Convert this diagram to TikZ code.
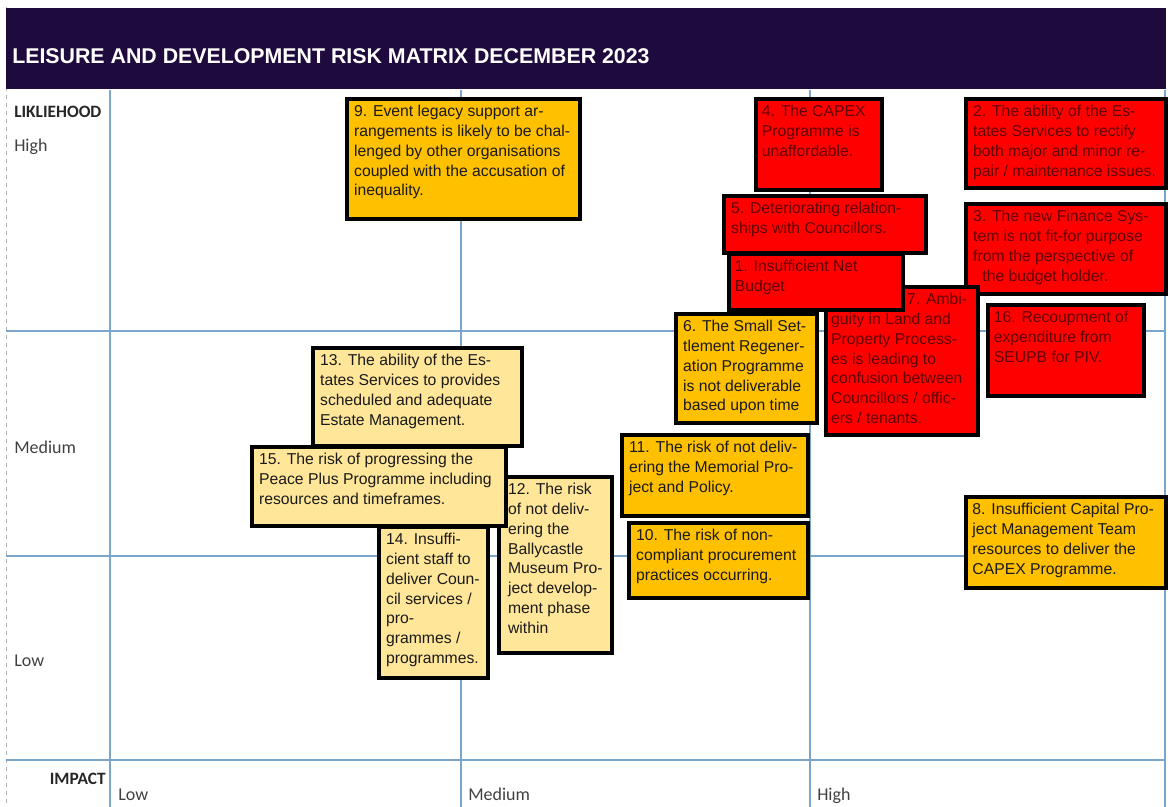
\documentclass[tikz,border=0pt]{standalone}
\usepackage{fontspec}
\setmainfont{Liberation Sans}
\newfontfamily\lblfont{Carlito}
\usetikzlibrary{fit,shadows}
\definecolor{hdr}{HTML}{1E0A3C}
\definecolor{gridc}{HTML}{7AA6CC}
\definecolor{orng}{HTML}{FFC000}
\definecolor{ltyel}{HTML}{FFE699}
\definecolor{rred}{HTML}{FF0000}
\definecolor{rtext}{HTML}{600000}
\definecolor{otext}{HTML}{1A1A1A}
\definecolor{lbl}{HTML}{404040}
\begin{document}
\begin{tikzpicture}[x=0.75pt,y=-0.75pt,
  gridline/.style={draw=gridc, line width=1.1pt},
  riskbox/.style={draw=black, line width=2.7pt, inner sep=0pt, rectangle,
     drop shadow={shadow xshift=1.2pt, shadow yshift=-1.2pt, opacity=0.35}},
  redbox/.style={riskbox, fill=rred},
  orbox/.style={riskbox, fill=orng},
  ylbox/.style={riskbox, fill=ltyel},
  boxtext/.style={anchor=north west, inner sep=0pt, align=left,
     font=\fontsize{11.8}{14.8}\selectfont},
  redtext/.style={boxtext, text=rtext},
  ortext/.style={boxtext, text=otext},
  axislbl/.style={anchor=base west, inner sep=0pt, text=lbl,
     font=\lblfont\fontsize{13.5}{16}\selectfont},
  axisbold/.style={anchor=base west, inner sep=0pt, text=black!85,
     font=\lblfont\bfseries\fontsize{13}{16}\selectfont}
]
\useasboundingbox (0,0) rectangle (1168,807);
% page border and header
\draw[gray!60, dashed, line width=0.5pt] (6,7) -- (6,807);
\fill[hdr] (6,8) rectangle (1166,89);
\node[anchor=base west, inner sep=0pt, text=white,
  font=\bfseries\fontsize{16}{19}\selectfont] (title) at (12,63)
  {LEISURE AND DEVELOPMENT RISK MATRIX DECEMBER 2023};
% grid
\draw[gridline] (110,90) -- (110,807);
\draw[gridline] (461,90) -- (461,807);
\draw[gridline] (810,90) -- (810,807);
\draw[gridline] (1165,90) -- (1165,807);
\draw[gridline] (6,331) -- (1165,331);
\draw[gridline] (6,556) -- (1165,556);
\draw[gridline] (6,760) -- (1165,760);
% axis labels
\node[axisbold] (lik) at (14,117) {LIKLIEHOOD};
\node[axislbl] (lh) at (14,151) {High};
\node[axislbl] (lm) at (14,453) {Medium};
\node[axislbl] (ll) at (14,666) {Low};
\node[axisbold, anchor=base east] (imp) at (106,784) {IMPACT};
\node[axislbl] (il) at (118,800) {Low};
\node[axislbl] (im) at (468,800) {Medium};
\node[axislbl] (ih) at (817,800) {High};
% ---- boxes ----
% 9
\node[orbox, fit={(347,99) (580,219)}] (b9) {};
\node[ortext] (t9) at ([shift={(6.5pt,-6pt)}]b9.north west)
 {9. Event legacy support ar-\\rangements is likely to be chal-\\lenged by other organisations\\coupled with the accusation of\\inequality.};
% 4
\node[redbox, fit={(756,99) (882,190)}] (b4) {};
\node[redtext] (t4) at ([shift={(5.5pt,-6pt)}]b4.north west)
 {4. The CAPEX\\Programme is\\unaffordable.};
% 2
\node[redbox, fit={(966,99) (1166,188)}] (b2) {};
\node[redtext] (t2) at ([shift={(6.5pt,-6pt)}]b2.north west)
 {2. The ability of the Es-\\tates Services to rectify\\both major and minor re-\\pair / maintenance issues.};
% 3
\node[redbox, fit={(966,204) (1166,294)}] (b3) {};
\node[redtext] (t3) at ([shift={(6.5pt,-6pt)}]b3.north west)
 {3. The new Finance Sys-\\tem is not fit-for purpose\\from the perspective of\\\hspace*{7pt}the budget holder.};
% 16
\node[redbox, fit={(988,305) (1144,396)}] (b16) {};
\node[redtext] (t16) at ([shift={(5.5pt,-6pt)}]b16.north west)
 {16. Recoupment of\\expenditure from\\SEUPB for PIV.};
% 7
\node[redbox, fit={(826,287) (978,435)}] (b7) {};
\node[redtext] (t7) at ([shift={(5pt,-6pt)}]b7.north west)
 {\hspace*{57pt}7. Ambi-\\guity in Land and\\Property Process-\\es is leading to\\confusion between\\Councillors / offic-\\ers / tenants.};
% 1
\node[redbox, fit={(729,254) (903,310)}] (b1) {};
\node[redtext] (t1) at ([shift={(5.5pt,-6pt)}]b1.north west)
 {1. Insufficient Net\\Budget};
% 5
\node[redbox, fit={(724,196) (926,253)}] (b5) {};
\node[redtext] (t5) at ([shift={(6.5pt,-6pt)}]b5.north west)
 {5. Deteriorating relation-\\ships with Councillors.};
% 6
\node[orbox, fit={(676,314) (817,423)}] (b6) {};
\node[ortext] (t6) at ([shift={(6.5pt,-6pt)}]b6.north west)
 {6. The Small Set-\\tlement Regener-\\ation Programme\\is not deliverable\\based upon time};
% 11
\node[orbox, fit={(622,435) (808,516)}] (b11) {};
\node[ortext] (t11) at ([shift={(6.5pt,-6pt)}]b11.north west)
 {11. The risk of not deliv-\\ering the Memorial Pro-\\ject and Policy.};
% 10
\node[orbox, fit={(629,523) (808,598)}] (b10) {};
\node[ortext] (t10) at ([shift={(6.5pt,-6pt)}]b10.north west)
 {10. The risk of non-\\compliant procurement\\practices occurring.};
% 8
\node[orbox, fit={(966,497) (1166,588)}] (b8) {};
\node[ortext] (t8) at ([shift={(6pt,-6pt)}]b8.north west)
 {8. Insufficient Capital Pro-\\ject Management Team\\resources to deliver the\\CAPEX Programme.};
% 13
\node[ylbox, fit={(313,348) (522,446)}] (b13) {};
\node[ortext] (t13) at ([shift={(6.5pt,-6pt)}]b13.north west)
 {13. The ability of the Es-\\tates Services to provides\\scheduled and adequate\\Estate Management.};
% 12
\node[ylbox, fit={(499,477) (612,653)}] (b12) {};
\node[ortext] (t12) at ([shift={(8pt,-6pt)}]b12.north west)
 {12. The risk\\of not deliv-\\ering the\\Ballycastle\\Museum Pro-\\ject develop-\\ment phase\\within};
% 14
\node[ylbox, fit={(379,527) (488,678)}] (b14) {};
\node[ortext] (t14) at ([shift={(6.5pt,-6pt)}]b14.north west)
 {14. Insuffi-\\cient staff to\\deliver Coun-\\cil services /\\pro-\\grammes /\\programmes.};
% 15
\node[ylbox, fit={(252,447) (506,526)}] (b15) {};
\node[ortext] (t15) at ([shift={(6.5pt,-6pt)}]b15.north west)
 {15. The risk of progressing the\\Peace Plus Programme including\\resources and timeframes.};
\end{tikzpicture}
\end{document}
